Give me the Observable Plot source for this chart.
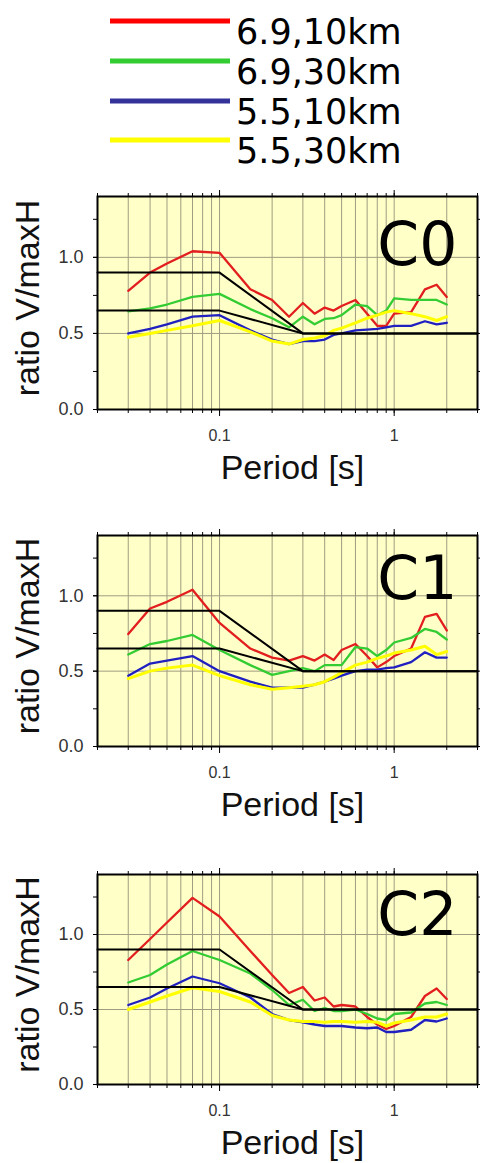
<!DOCTYPE html>
<html>
<head>
<meta charset="utf-8">
<script src="https://cdn.jsdelivr.net/npm/d3@7"></script>
<script src="https://cdn.jsdelivr.net/npm/@observablehq/plot@0.6"></script>
<style>
  body { margin: 0; background: #fff; width: 480px; overflow: hidden; }
  svg { display: block; }
</style>
</head>
<body>
<div id="legend"></div>
<div id="charts"></div>
<script>
// ---------- data ----------
const periods = [0.03, 0.04, 0.05, 0.07, 0.1, 0.15, 0.2, 0.25, 0.3, 0.35, 0.4, 0.45, 0.5, 0.6, 0.7, 0.8, 0.9, 1.0, 1.25, 1.5, 1.75, 2.0];

const seriesNames = ["6.9,10km", "6.9,30km", "5.5,10km", "5.5,30km"];
const seriesColors = ["#e21e1e", "#33cc33", "#2020c0", "#ffff00"];
const legendColors = ["#ff0000", "#33cc33", "#333399", "#ffff00"];

// C0
const c0_m69_10km = [0.78, 0.90, 0.96, 1.04, 1.03, 0.79, 0.72, 0.61, 0.70, 0.63, 0.67, 0.65, 0.68, 0.72, 0.63, 0.55, 0.55, 0.63, 0.64, 0.79, 0.82, 0.74];
const c0_m69_30km = [0.645, 0.665, 0.69, 0.74, 0.76, 0.66, 0.60, 0.54, 0.61, 0.56, 0.595, 0.60, 0.62, 0.69, 0.68, 0.62, 0.65, 0.73, 0.72, 0.72, 0.72, 0.69];
const c0_m55_10km = [0.50, 0.53, 0.56, 0.61, 0.62, 0.52, 0.46, 0.43, 0.45, 0.45, 0.46, 0.49, 0.50, 0.52, 0.525, 0.53, 0.54, 0.55, 0.55, 0.58, 0.56, 0.57];
const c0_m55_30km = [0.475, 0.50, 0.52, 0.55, 0.585, 0.51, 0.45, 0.43, 0.46, 0.47, 0.485, 0.52, 0.535, 0.57, 0.60, 0.62, 0.64, 0.65, 0.63, 0.61, 0.585, 0.61];

// C1
const c1_m69_10km = [0.746, 0.916, 0.96, 1.04, 0.82, 0.65, 0.59, 0.57, 0.60, 0.57, 0.61, 0.574, 0.64, 0.68, 0.60, 0.525, 0.56, 0.60, 0.65, 0.86, 0.88, 0.77];
const c1_m69_30km = [0.61, 0.68, 0.70, 0.74, 0.64, 0.54, 0.475, 0.50, 0.52, 0.50, 0.54, 0.54, 0.54, 0.66, 0.65, 0.60, 0.64, 0.69, 0.72, 0.78, 0.76, 0.71];
const c1_m55_10km = [0.47, 0.55, 0.57, 0.60, 0.50, 0.43, 0.39, 0.39, 0.39, 0.41, 0.43, 0.45, 0.47, 0.50, 0.51, 0.51, 0.52, 0.525, 0.56, 0.625, 0.59, 0.59];
const c1_m55_30km = [0.45, 0.50, 0.52, 0.54, 0.47, 0.41, 0.38, 0.39, 0.40, 0.41, 0.43, 0.46, 0.49, 0.54, 0.56, 0.585, 0.60, 0.62, 0.64, 0.665, 0.61, 0.63];

// C2
const c2_m69_10km = [0.83, 0.97, 1.08, 1.244, 1.12, 0.89, 0.73, 0.61, 0.65, 0.56, 0.58, 0.52, 0.53, 0.52, 0.45, 0.40, 0.37, 0.39, 0.45, 0.59, 0.64, 0.57];
const c2_m69_30km = [0.68, 0.73, 0.80, 0.89, 0.83, 0.74, 0.63, 0.53, 0.565, 0.49, 0.51, 0.49, 0.49, 0.50, 0.47, 0.44, 0.43, 0.47, 0.48, 0.54, 0.55, 0.53];
const c2_m55_10km = [0.53, 0.58, 0.64, 0.72, 0.675, 0.58, 0.47, 0.43, 0.415, 0.40, 0.39, 0.39, 0.39, 0.38, 0.375, 0.38, 0.35, 0.35, 0.365, 0.43, 0.42, 0.44];
const c2_m55_30km = [0.50, 0.55, 0.59, 0.645, 0.62, 0.55, 0.46, 0.43, 0.42, 0.42, 0.415, 0.42, 0.42, 0.415, 0.42, 0.415, 0.39, 0.41, 0.43, 0.45, 0.45, 0.47];

// reference (code) spectra
const codePeriods = [0.02, 0.1, 0.3, 3];
const codeUpper = [0.9, 0.9, 0.5, 0.5];
const codeLower = [0.65, 0.65, 0.5, 0.5];

// axes
const gridPeriods = [0.03, 0.04, 0.05, 0.06, 0.07, 0.08, 0.09, 0.1, 0.2, 0.3, 0.4, 0.5, 0.6, 0.7, 0.8, 0.9, 1, 2];
const xTickPeriods = [0.02, 0.03, 0.04, 0.05, 0.06, 0.07, 0.08, 0.09, 0.1, 0.2, 0.3, 0.4, 0.5, 0.6, 0.7, 0.8, 0.9, 1, 2, 3];
const xMajorTicks = [0.1, 1];
const xMajorLabels = ["0.1", "1"];
const yTicks = [0, 0.25, 0.5, 0.75, 1, 1.25];
const yLabelTicks = [0, 0.5, 1];
const yGridValues = [0.5, 1];

const panelNames = ["C0", "C1", "C2"];
const panelSeries = [
  [c0_m69_10km, c0_m69_30km, c0_m55_10km, c0_m55_30km],
  [c1_m69_10km, c1_m69_30km, c1_m55_10km, c1_m55_30km],
  [c2_m69_10km, c2_m69_30km, c2_m55_10km, c2_m55_30km]
];

// ---------- legend ----------
const legendSvg = d3.select("#legend").append("svg")
  .attr("width", 480).attr("height", 176);
seriesNames.forEach((name, i) => {
  const ly = [21, 61, 101, 140][i];
  legendSvg.append("line")
    .attr("x1", 110).attr("x2", 230).attr("y1", ly).attr("y2", ly)
    .attr("stroke", legendColors[i]).attr("stroke-width", 5);
  legendSvg.append("text")
    .attr("x", 236).attr("y", ly + 23)
    .attr("font-family", "DejaVu Sans, sans-serif")
    .attr("font-size", 35).attr("fill", "#000")
    .text(name);
});

// ---------- panels ----------
const layout = [
  {height: 339, marginBottom: 106, labelY: 0.95},
  {height: 339, marginBottom: 108, labelY: 0.98},
  {height: 309, marginBottom: 79, labelY: 1.0}
];

const codeRows = (vals) => codePeriods.map((p, j) => ({period: p, ratio: vals[j]}));

panelNames.forEach((name, k) => {
  const L = layout[k];
  const lineMarks = panelSeries[k].map((vals, i) =>
    Plot.line(periods.map((p, j) => ({period: p, ratio: vals[j]})), {
      x: "period", y: "ratio", stroke: seriesColors[i],
      strokeWidth: i === 3 ? 3 : 2.3, strokeLinejoin: "round"
    })
  );
  const chart = Plot.plot({
    width: 480,
    height: L.height,
    marginLeft: 97,
    marginRight: 3,
    marginTop: 20,
    marginBottom: L.marginBottom,
    style: {fontFamily: "Liberation Sans, Arial, sans-serif", background: "transparent", overflow: "visible"},
    x: {type: "log", domain: [0.02, 3], axis: null},
    y: {domain: [0, 1.4], axis: null},
    marks: [
      Plot.frame({fill: "#ffffc8", stroke: "none"}),
      Plot.gridX(gridPeriods, {stroke: "#a09c80", strokeOpacity: 1, strokeWidth: 1}),
      Plot.gridY(yGridValues, {stroke: "#a09c80", strokeOpacity: 1, strokeWidth: 1}),
      ...lineMarks,
      Plot.line(codeRows(codeUpper), {x: "period", y: "ratio", stroke: "#000", strokeWidth: 2}),
      Plot.line(codeRows(codeLower), {x: "period", y: "ratio", stroke: "#000", strokeWidth: 2}),
      Plot.frame({stroke: "#000", strokeWidth: 2}),
      Plot.axisX(xTickPeriods, {anchor: "bottom", tickSize: 4, fill: "none", label: null}),
      Plot.axisX(xMajorTicks, {anchor: "bottom", tickSize: 7, tickPadding: 13,
        tickFormat: (d) => xMajorLabels[xMajorTicks.indexOf(d)],
        fontSize: 16, fill: "#333", label: null}),
      Plot.axisX(xTickPeriods, {anchor: "top", tickSize: 4, fill: "none", label: null}),
      Plot.axisX(xMajorTicks, {anchor: "top", tickSize: 7, fill: "none", label: null}),
      Plot.axisY(yTicks, {anchor: "left", tickSize: 4, fill: "none", label: null}),
      Plot.axisY(yLabelTicks, {anchor: "left", tickSize: 4, tickPadding: 10,
        tickFormat: d3.format(".1f"), fontSize: 18, fill: "#333", label: null}),
      Plot.axisY(yTicks, {anchor: "right", tickSize: 4, fill: "none", label: null}),
      Plot.text(["Period [s]"], {text: d => d, frameAnchor: "bottom", dx: 5, dy: 69,
        lineAnchor: "bottom", fontSize: 34, fill: "#111"}),
      Plot.text(["ratio V/maxH"], {text: d => d, frameAnchor: "left", dx: -69, dy: -5,
        rotate: -90, textAnchor: "middle", lineAnchor: "middle", fontSize: 34, fill: "#111"}),
      Plot.text([name], {text: d => d, x: () => 0.8, y: () => L.labelY, textAnchor: "start",
        lineAnchor: "bottom", fontSize: 60, fontFamily: "DejaVu Sans, sans-serif", fill: "#000"})
    ]
  });
  document.getElementById("charts").appendChild(chart);
});
</script>
</body>
</html>
